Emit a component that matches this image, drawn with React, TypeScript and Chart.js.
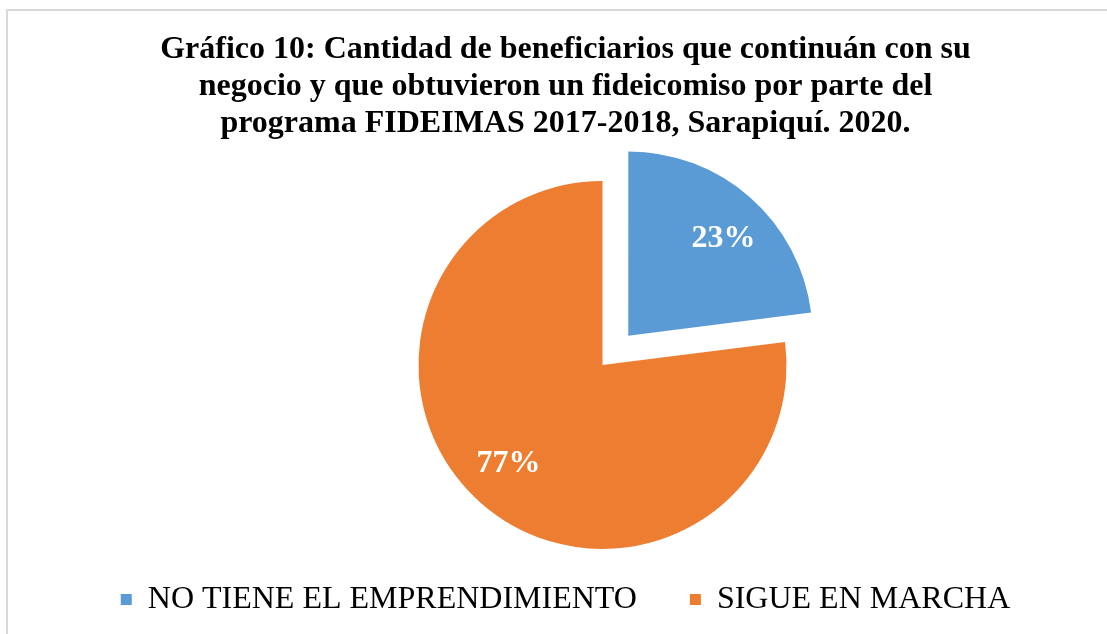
import React, { useEffect, useRef } from "react";
import { Chart, registerables } from "chart.js";

Chart.register(...registerables);

const categories = ["NO TIENE EL EMPRENDIMIENTO", "SIGUE EN MARCHA"];
const values = [23, 77];
const colors = ["#5B9BD5", "#ED7D31"];
const explode = [156, 0];
const titleLines = [
  "Gráfico 10: Cantidad de beneficiarios que continuán con su",
  "negocio y que obtuvieron un fideicomiso por parte del",
  "programa FIDEIMAS 2017-2018, Sarapiquí. 2020.",
];

const SERIF = "'Liberation Serif', 'Times New Roman', serif";

const framePlugin = {
  id: "frame",
  beforeDraw(chart: any) {
    const ctx = chart.ctx;
    ctx.save();
    ctx.fillStyle = "#D9D9D9";
    ctx.fillRect(6, 9, chart.width - 6, 2);
    ctx.fillRect(6, 9, 2, chart.height - 9);
    ctx.restore();
  },
};

const shiftPlugin = {
  id: "shiftPie",
  afterLayout(chart: any) {
    const a = chart.chartArea;
    a.left += 37;
    a.right += 37;
  },
};

const labelPlugin = {
  id: "pctLabels",
  afterDatasetsDraw(chart: any) {
    const ctx = chart.ctx;
    const meta = chart.getDatasetMeta(0);
    const total = values.reduce((s, v) => s + v, 0);
    ctx.save();
    ctx.font = `bold 32px ${SERIF}`;
    ctx.fillStyle = "#ffffff";
    ctx.textAlign = "center";
    ctx.textBaseline = "middle";
    meta.data.forEach((arc: any, i: number) => {
      const p = arc.getProps(["x", "y", "startAngle", "endAngle", "outerRadius"], true);
      const mid = (p.startAngle + p.endAngle) / 2 + 0.04;
      const off = (explode[i] || 0) / 4;
      const r = off + p.outerRadius * 0.74;
      ctx.fillText(
        Math.round((values[i] / total) * 100) + "%",
        p.x + Math.cos(mid) * r,
        p.y + Math.sin(mid) * r
      );
    });
    ctx.restore();
  },
};

export default function App() {
  const ref = useRef<HTMLCanvasElement | null>(null);
  useEffect(() => {
    if (!ref.current) return;
    const chart = new Chart(ref.current, {
      type: "pie",
      data: {
        labels: categories,
        datasets: [
          {
            data: values,
            backgroundColor: colors,
            borderWidth: 0,
            offset: explode,
            radius: 184,
          } as any,
        ],
      },
      options: {
        responsive: false,
        animation: false,
        layout: { padding: { left: 24, right: 0, top: 0, bottom: 8.4 } },
        plugins: {
          title: {
            display: true,
            text: titleLines,
            color: "#000000",
            font: { family: SERIF, size: 32, weight: "bold", lineHeight: 1.156 },
            padding: { top: 31, bottom: 57.4 },
          },
          legend: {
            position: "bottom",
            labels: {
              color: "#000000",
              font: { family: SERIF, size: 32 },
              boxWidth: 11,
              boxHeight: 11,
              padding: 53,
            },
          },
          tooltip: { enabled: false },
        },
      } as any,
      plugins: [framePlugin, shiftPlugin, labelPlugin],
    });
    return () => chart.destroy();
  }, []);
  return (
    <div
      style={{
        position: "fixed",
        left: 0,
        top: 0,
        width: 1107,
        height: 634,
        overflow: "hidden",
        background: "#ffffff",
      }}
    >
      <canvas
        ref={ref}
        width={1107}
        height={634}
        style={{ position: "absolute", left: 0, top: 0 }}
      />
    </div>
  );
}
